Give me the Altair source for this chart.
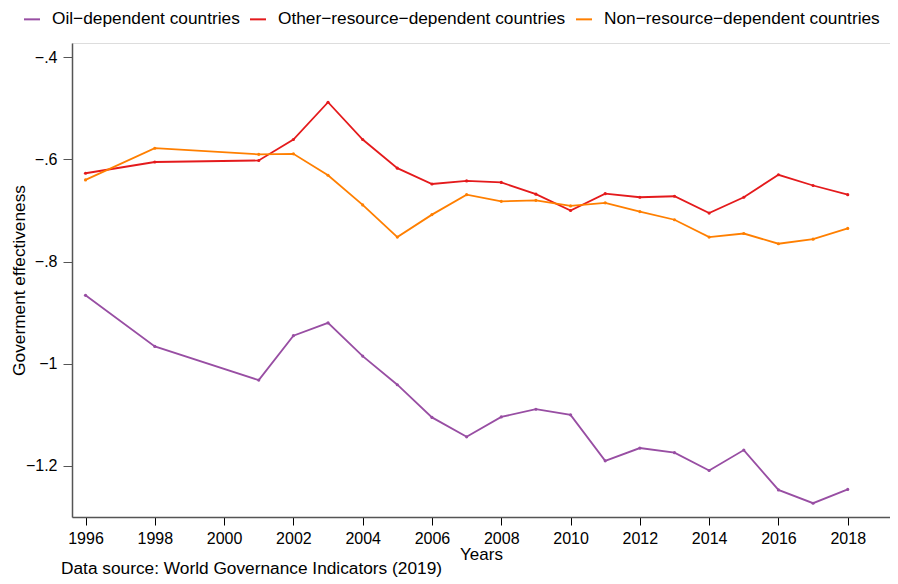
import altair as alt
import pandas as pd

years = [1996, 1998, 2001, 2002, 2003, 2004, 2005, 2006, 2007, 2008, 2009,
         2010, 2011, 2012, 2013, 2014, 2015, 2016, 2017, 2018]

oil = [-0.866, -0.966, -1.032, -0.945, -0.920, -0.985, -1.041, -1.105, -1.143,
       -1.104, -1.089, -1.100, -1.190, -1.165, -1.174, -1.209, -1.169, -1.247,
       -1.273, -1.246]
other = [-0.627, -0.605, -0.602, -0.561, -0.488, -0.561, -0.617, -0.648, -0.642,
         -0.645, -0.668, -0.700, -0.667, -0.674, -0.672, -0.705, -0.674, -0.630,
         -0.651, -0.669]
nonres = [-0.640, -0.578, -0.590, -0.589, -0.631, -0.689, -0.752, -0.708, -0.669,
          -0.682, -0.680, -0.691, -0.685, -0.702, -0.718, -0.752, -0.745, -0.765,
          -0.756, -0.735]

series = ["Oil\u2212dependent countries",
          "Other\u2212resource\u2212dependent countries",
          "Non\u2212resource\u2212dependent countries"]
colors = ["#984EA3", "#E41A1C", "#FF7F00"]
x_ticks = list(range(1996, 2019, 2))
y_ticks = [-0.4, -0.6, -0.8, -1.0, -1.2]

rows = []
for name, vals in zip(series, [oil, other, nonres]):
    for yr, v in zip(years, vals):
        rows.append({"year": yr, "value": v, "group": name})
df = pd.DataFrame(rows)

FONT = "Liberation Sans"

color = alt.Color(
    "group:N",
    scale=alt.Scale(domain=series, range=colors),
    sort=series,
    legend=alt.Legend(
        title=None,
        orient="none",
        direction="horizontal",
        legendX=-49,
        legendY=-33,
        symbolType="stroke",
        symbolSize=256,
        symbolStrokeWidth=2,
        labelFont=FONT,
        labelFontSize=17.3,
        labelColor="#000000",
        labelOffset=11,
        labelLimit=500,
        columnPadding=6,
        padding=0,
    ),
)

x = alt.X(
    "year:Q",
    scale=alt.Scale(domain=[1995.61, 2019.22], nice=False, zero=False),
    axis=alt.Axis(
        values=x_ticks, format="d", title="Years", grid=False,
        labelFont=FONT, labelFontSize=16, labelColor="#000000",
        titleFont=FONT, titleFontSize=17, titleFontWeight="normal", titleColor="#000000",
        titlePadding=0, tickSize=8, tickColor="#000000", domainColor="#555555",
        domainWidth=1.5, labelPadding=5,
    ),
)
y = alt.Y(
    "value:Q",
    scale=alt.Scale(domain=[-1.3, -0.372], nice=False, zero=False),
    axis=alt.Axis(
        values=y_ticks, labelExpr="replace(format(datum.value, '~g'), '0.', '.')",
        title="Goverment effectiveness", grid=False,
        labelFont=FONT, labelFontSize=16, labelColor="#000000",
        titleFont=FONT, titleFontSize=17.3, titleFontWeight="normal", titleColor="#000000",
        titlePadding=-3, tickSize=9, tickColor="#555555", domainColor="#555555",
        domainWidth=1.5, labelPadding=6,
    ),
)

lines = alt.Chart(df).mark_line(strokeWidth=1.8).encode(
    x=x, y=y, color=color, detail="group:N"
)
points = alt.Chart(df).mark_point(filled=True, size=10, opacity=1).encode(
    x="year:Q", y="value:Q",
    color=alt.Color("group:N", scale=alt.Scale(domain=series, range=colors), legend=None),
)

chart = alt.layer(lines, points).properties(
    width=818,
    height=474,
    autosize=alt.AutoSizeParams(type="none"),
    padding={"left": 64, "top": 35, "right": 0, "bottom": 61},
    title=alt.TitleParams(
        "Data source: World Governance Indicators (2019)",
        orient="bottom", anchor="start", frame="group",
        font=FONT, fontSize=17.3, fontWeight="normal", color="#000000",
        dx=-11, offset=-2,
    ),
).configure_view(stroke=None).configure(background="white")

chart.save("out.html", embed_options={"renderer": "svg", "actions": False})
